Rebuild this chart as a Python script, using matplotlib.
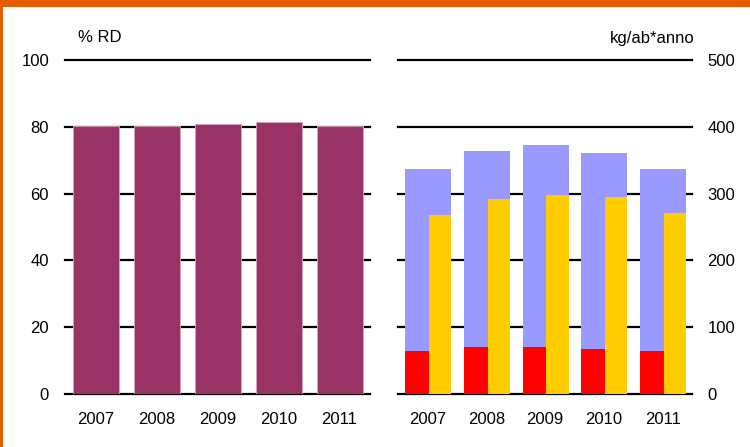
import matplotlib.pyplot as plt
from matplotlib.patches import Rectangle
import numpy as np

plt.rcParams['font.family'] = ['Liberation Sans', 'DejaVu Sans']

years = ['2007', '2008', '2009', '2010', '2011']
rd_pct = [80.1, 80.2, 80.8, 81.4, 80.2]          # % raccolta differenziata
rifiuti_tot = [337, 364, 373, 361, 337]          # kg/ab*anno totale
rifiuti_red = [65, 71, 71, 68, 65]
rifiuti_yellow = [268, 292, 298, 295, 271]

W, H = 750, 447
fig = plt.figure(figsize=(W / 100, H / 100), dpi=100)

def frac(x0, y0, x1, y1):
    return [x0 / W, 1 - y1 / H, (x1 - x0) / W, (y1 - y0) / H]

# orange frame (top bar + left line)
fig.add_artist(Rectangle((0, 1 - 7 / H), 1, 7 / H, transform=fig.transFigure,
                         color='#E65C00', lw=0))
fig.add_artist(Rectangle((0, 0), 2.5 / W, 1, transform=fig.transFigure,
                         color='#E65C00', lw=0))

def style(ax, ymax, step, side):
    ax.set_xlim(0, 5)
    ax.set_ylim(0, ymax)
    for s in ax.spines.values():
        s.set_visible(False)
    for v in np.arange(0, ymax + 1, step):
        ax.axhline(v, color='black', lw=1.6, zorder=0.5, clip_on=False)
    ax.set_yticks(np.arange(0, ymax + 1, step))
    ax.set_xticks(np.arange(5) + 0.5)
    ax.set_xticklabels(years)
    ax.tick_params(axis='x', length=0, pad=13, labelsize=12)
    if side == 'left':
        ax.tick_params(axis='y', length=0, pad=11.5, labelsize=12)
    else:
        ax.yaxis.tick_right()
        ax.tick_params(axis='y', length=0, pad=11, labelsize=12)

# left panel: % RD
ax1 = fig.add_axes(frac(65, 60, 370, 394))
style(ax1, 100, 20, 'left')
x = np.arange(len(years)) + 0.51
ax1.bar(x, rd_pct, width=0.76, color='#993366', edgecolor='#D9A7C0', lw=0.6, zorder=2)
fig.text(78 / W, 1 - 38 / H, '% RD', fontsize=12, va='center', ha='left')

# right panel: kg/ab*anno
ax2 = fig.add_axes(frac(398, 60, 692, 394))
style(ax2, 500, 100, 'right')
left = np.arange(len(years)) + 0.12
ax2.bar(left, rifiuti_tot, width=0.78, align='edge', color='#9999FF', lw=0, zorder=2)
ax2.bar(left, rifiuti_red, width=0.405, align='edge', color='#FF0000', lw=0, zorder=3)
ax2.bar(left + 0.405, rifiuti_yellow, width=0.375, align='edge', color='#FFCC00', lw=0, zorder=3)
fig.text(695 / W, 1 - 38 / H, 'kg/ab*anno', fontsize=12, va='center', ha='right')

fig.savefig('out.png', dpi=100)
